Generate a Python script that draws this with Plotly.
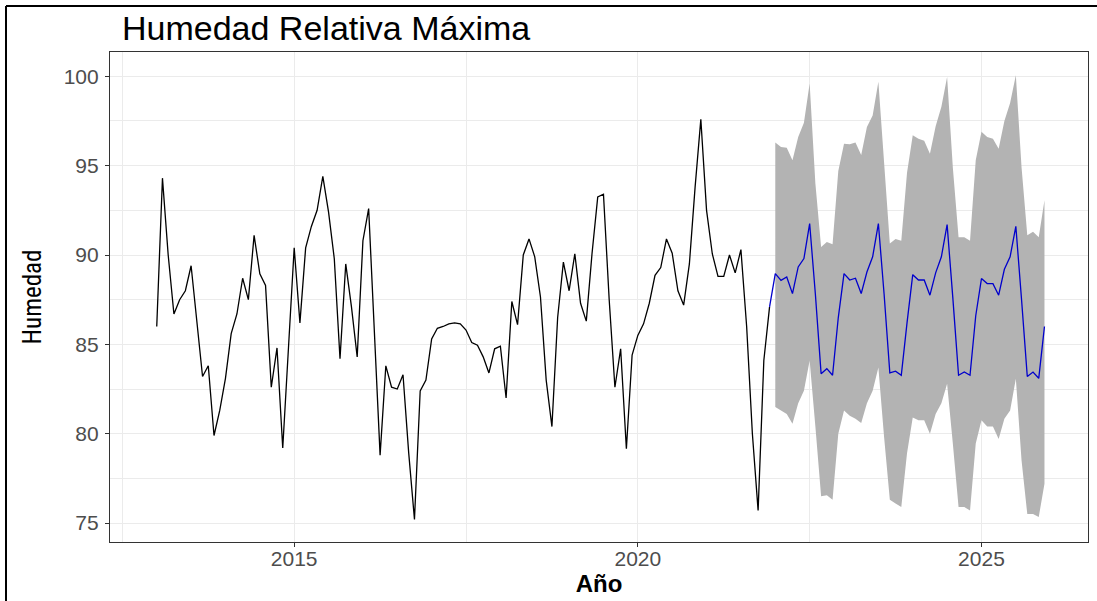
import plotly.graph_objects as go

# ---------------- data ----------------
start_year = 2013          # first observation: January 2013, monthly
observed = [
    86.0, 94.3, 90.0, 86.7, 87.5, 88.0, 89.4, 86.2, 83.2, 83.8, 79.9, 81.3,   # 2013
    83.1, 85.6, 86.7, 88.7, 87.5, 91.1, 88.95, 88.3, 82.6, 84.8, 79.2, 84.8,  # 2014
    90.4, 86.2, 90.4, 91.6, 92.5, 94.4, 92.4, 89.8, 84.2, 89.5, 87.1, 84.3,   # 2015
    90.8, 92.6, 85.4, 78.8, 83.8, 82.6, 82.5, 83.3, 78.9, 75.2, 82.4, 83.0,   # 2016
    85.3, 85.9, 86.0, 86.15, 86.2, 86.15, 85.8, 85.1, 84.95, 84.3, 83.4, 84.75,  # 2017
    84.9, 82.0, 87.4, 86.1, 90.0, 90.9, 89.9, 87.65, 83.0, 80.4, 86.5, 89.6,  # 2018
    88.0, 90.07, 87.3, 86.3, 90.07, 93.25, 93.4, 87.5, 82.6, 84.75, 79.16, 84.4,  # 2019
    85.5, 86.15, 87.3, 88.86, 89.3, 90.9, 90.1, 88.0, 87.2, 89.5, 93.8, 97.6,  # 2020
    92.5, 90.07, 88.8, 88.8, 90.0, 89.0, 90.3, 86.0, 80.0, 75.7, 84.1, 87.1,  # 2021
]
forecast_mean = [
    88.96, 88.58, 88.77, 87.84, 89.33, 89.8, 91.76, 87.8, 83.36, 83.64, 83.27, 86.5,   # 2022
    88.96, 88.6, 88.7, 87.84, 89.05, 89.9, 91.76, 87.8, 83.4, 83.5, 83.27, 86.2,       # 2023
    88.9, 88.6, 88.6, 87.75, 89.0, 89.9, 91.7, 87.6, 83.27, 83.45, 83.27, 86.6,        # 2024
    88.68, 88.4, 88.4, 87.75, 89.2, 89.9, 91.6, 87.5, 83.2, 83.45, 83.1, 86.0,         # 2025
]
forecast_upper = [
    96.3, 96.05, 96.0, 95.3, 96.6, 97.4, 99.6, 94.0, 90.45, 90.73, 90.6, 94.7,
    96.23, 96.2, 96.3, 95.6, 97.16, 97.8, 99.7, 94.9, 90.64, 90.9, 90.8, 94.6,
    96.7, 96.5, 96.4, 95.67, 97.2, 98.3, 99.96, 94.9, 91.0, 91.0, 90.8, 95.3,
    96.9, 96.6, 96.5, 95.95, 97.5, 98.5, 100.06, 94.9, 91.1, 91.3, 91.0, 93.06,
]
forecast_lower = [
    81.5, 81.3, 81.1, 80.56, 81.7, 82.4, 84.1, 80.4, 76.5, 76.55, 76.3, 80.0,
    81.3, 81.0, 80.84, 80.6, 81.7, 82.4, 83.7, 79.8, 76.3, 76.1, 75.9, 78.9,
    80.9, 80.75, 80.75, 80.0, 81.1, 81.7, 82.8, 79.45, 75.9, 75.9, 75.7, 79.45,
    80.75, 80.4, 80.4, 79.7, 80.84, 81.3, 83.08, 78.5, 75.5, 75.5, 75.34, 77.2,
]
x_tick_vals = [2015, 2020, 2025]
x_minor_vals = [2012.5, 2017.5, 2022.5]
y_tick_vals = [75, 80, 85, 90, 95, 100]
y_minor_vals = [77.5, 82.5, 87.5, 92.5, 97.5]
title_text = "Humedad Relativa Máxima"
x_title = "Año"
y_title = "Humedad"

# ---------------- time index ----------------
n_obs = len(observed)
t_obs = [start_year + i / 12 for i in range(n_obs)]
t_fc = [start_year + (n_obs + i) / 12 for i in range(len(forecast_mean))]

W, H = 1097, 601
L, R, T, B = 110, 9, 52, 59

fig = go.Figure()

# prediction interval band
fig.add_trace(go.Scatter(x=t_fc, y=forecast_lower, mode="lines",
                         line=dict(width=0, color="#b3b3b3"),
                         showlegend=False, hoverinfo="skip"))
fig.add_trace(go.Scatter(x=t_fc, y=forecast_upper, mode="lines",
                         line=dict(width=0, color="#b3b3b3"),
                         fill="tonexty", fillcolor="#b3b3b3",
                         showlegend=False, hoverinfo="skip"))

# observed series
fig.add_trace(go.Scatter(x=t_obs, y=observed, mode="lines",
                         line=dict(color="#000000", width=1.3),
                         showlegend=False))

# forecast mean (joined to the last observation)
fig.add_trace(go.Scatter(x=[t_obs[-1]] + t_fc, y=[observed[-1]] + forecast_mean,
                         mode="lines", line=dict(color="#0000CC", width=1.3),
                         showlegend=False))

grid_col = "#ebebeb"
tick_font = dict(family="Liberation Sans, Arial, sans-serif", size=21, color="#4d4d4d")
axis_common = dict(showline=True, mirror=True, linecolor="#333333", linewidth=1.2,
                   ticks="outside", ticklen=4, tickwidth=1.1, tickcolor="#333333",
                   gridcolor=grid_col, gridwidth=1.1, zeroline=False,
                   tickfont=tick_font)

fig.update_xaxes(range=[2012.32, 2026.55], tickmode="array", tickvals=x_tick_vals,
                 ticktext=[str(v) for v in x_tick_vals], ticklabelstandoff=-6,
                 minor=dict(tickmode="array", tickvals=x_minor_vals, showgrid=True,
                            gridcolor=grid_col, gridwidth=0.6, ticks=""),
                 title=dict(text="<b>" + x_title + "</b>", standoff=2,
                            font=dict(family="Liberation Sans, Arial, sans-serif",
                                      size=24, color="#000000")),
                 **axis_common)
fig.update_yaxes(range=[73.94, 101.36], tickmode="array", tickvals=y_tick_vals,
                 ticktext=[str(v) for v in y_tick_vals], ticklabelstandoff=2,
                 minor=dict(tickmode="array", tickvals=y_minor_vals, showgrid=True,
                            gridcolor=grid_col, gridwidth=0.6, ticks=""),
                 title=dict(text=y_title, standoff=14,
                            font=dict(family="Liberation Sans Narrow, Roboto Condensed, DejaVu Sans Condensed, Liberation Sans, Arial, sans-serif",
                                      size=25, color="#000000")),
                 **axis_common)

# outer frame of the screenshot (left and top edges)
fx = (6 - L) / (W - L - R)
fy = (H - B - 6) / (H - T - B)
fig.add_shape(type="line", xref="paper", yref="paper", x0=fx, x1=fx, y0=-0.2, y1=fy,
              line=dict(color="#000000", width=2))
fig.add_shape(type="line", xref="paper", yref="paper", x0=fx, x1=1.05, y0=fy, y1=fy,
              line=dict(color="#000000", width=2))

fig.update_layout(
    width=W, height=H,
    margin=dict(l=L, r=R, t=T, b=B, pad=0),
    paper_bgcolor="#ffffff", plot_bgcolor="#ffffff",
    title=dict(text=title_text, x=122 / W, xanchor="left", y=1 - 28 / H, yanchor="middle",
               font=dict(family="Liberation Sans, Arial, sans-serif", size=34, color="#000000")),
    showlegend=False,
)

fig.write_html("out.html")
